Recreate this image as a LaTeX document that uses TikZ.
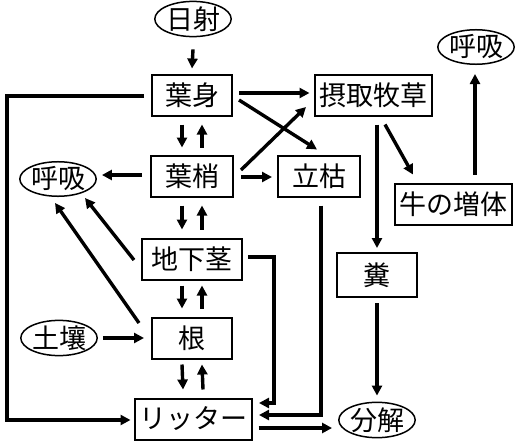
\documentclass[tikz,border=0pt]{standalone}
\usepackage{fontspec}
\newfontfamily\jp{Noto Sans CJK JP}
\usetikzlibrary{arrows.meta,shapes.geometric}
\begin{document}
\begin{tikzpicture}[x=1pt,y=-1pt,
  every node/.style={font=\jp\fontsize{27}{27}\selectfont, inner sep=0pt},
  box/.style={draw, line width=2pt, rectangle, minimum height=41pt},
  oval/.style={draw, line width=1.5pt, ellipse, minimum width=73pt, minimum height=32pt},
  arr/.style={line width=3.4pt, -{Triangle[length=10pt,width=10pt]}}]
\useasboundingbox (0,0) rectangle (520,442);
\node[oval] (nisha) at (193,19) {日射};
\node[box, minimum width=80pt] (yoshin) at (192,95) {葉身};
\node[box, minimum width=82pt] (yosho) at (192,176) {葉梢};
\node[oval] (kokyuL) at (58,179) {呼吸};
\node[box, minimum width=100pt] (chika) at (192,259) {地下茎};
\node[box, minimum width=80pt] (ne) at (192,338) {根};
\node[oval] (dojo) at (59,338) {土壤};
\node[box, minimum width=117pt] (litter) at (193,419) {リッター};
\node[box, minimum width=117pt] (sesshu) at (373,95) {摂取牧草};
\node[box, minimum width=82pt] (tachigare) at (319,176) {立枯};
\node[box, minimum width=117pt] (ushi) at (453,204) {牛の増体};
\node[oval] (kokyuR) at (476,47) {呼吸};
\node[box, minimum width=80pt, minimum height=44pt] (fun) at (377,275) {糞};
\node[oval, minimum height=34pt] (bunkai) at (377,420) {分解};

\draw[arr] ([shift={(0,12)}]nisha.south) -- ([shift={(0,-5)}]yoshin.north);
% double arrows
\draw[arr] ([shift={(-10,8)}]yoshin.south) -- ([shift={(-10,-7)}]yosho.north);
\draw[arr] ([shift={(10,-7)}]yosho.north) -- ([shift={(10,8)}]yoshin.south);
\draw[arr] ([shift={(-10,8)}]yosho.south) -- ([shift={(-10,-8)}]chika.north);
\draw[arr] ([shift={(10,-8)}]chika.north) -- ([shift={(10,8)}]yosho.south);
\draw[arr] ([shift={(-10,5)}]chika.south) -- ([shift={(-10,-8)}]ne.north);
\draw[arr] ([shift={(10,-8)}]ne.north) -- ([shift={(10,5)}]chika.south);
\draw[arr] ([shift={(-10,5)}]ne.south) -- ([shift={(-10,-8)}]litter.north);
\draw[arr] ([shift={(10,-8)}]litter.north) -- ([shift={(10,5)}]ne.south);
% from leaf blade
\draw[arr] ([shift={(6,-2)}]yoshin.east) -- ([shift={(-4,-2)}]sesshu.west);
\draw[arr] ([shift={(6,5)}]yoshin.east) -- ([shift={(-2,-5)}]tachigare.north);
\draw[arr] ([shift={(7,-6)}]yosho.east) -- ([shift={(-7.5,12)}]sesshu.west);
\draw[arr] ([shift={(7,1)}]yosho.east) -- ([shift={(-5,1)}]tachigare.west);
\draw[arr] ([shift={(-8,-1)}]yosho.west) -- ([shift={(5,-4)}]kokyuL.east);
\draw[arr] ([shift={(-7,1)}]chika.west) -- ([shift={(27,19)}]kokyuL.center);
\draw[arr] ([shift={(-12,-15)}]ne.west) -- ([shift={(-3,24)}]kokyuL.center);
\draw[arr] ([shift={(5,0)}]dojo.east) -- ([shift={(-7,0)}]ne.west);
% loop to litter
\draw[arr] ([shift={(-7,1)}]yoshin.west) -- ++(-137,0) |- ([shift={(-3,1)}]litter.west);
\draw[arr] ([shift={(5,-2)}]chika.east) -- ++(26,0) |- ([shift={(6.5,-16)}]litter.east);
\draw[arr] ([shift={(2,8)}]tachigare.south) |- ([shift={(6.5,-4)}]litter.east);
\draw[arr] ([shift={(6,9)}]litter.east) -- ([shift={(-6,8)}]bunkai.west);
% grazing
\draw[arr] ([shift={(12,8)}]sesshu.south) -- ([shift={(-40,-8)}]ushi.north);
\draw[arr] ([shift={(4,8)}]sesshu.south) -- ([shift={(0,-4)}]fun.north);
\draw[arr] ([shift={(0,5)}]fun.south) -- ([shift={(0,-6)}]bunkai.north);
\draw[arr] ([shift={(22,-8)}]ushi.north) -- ([shift={(-1,9)}]kokyuR.south);
\end{tikzpicture}
\end{document}
